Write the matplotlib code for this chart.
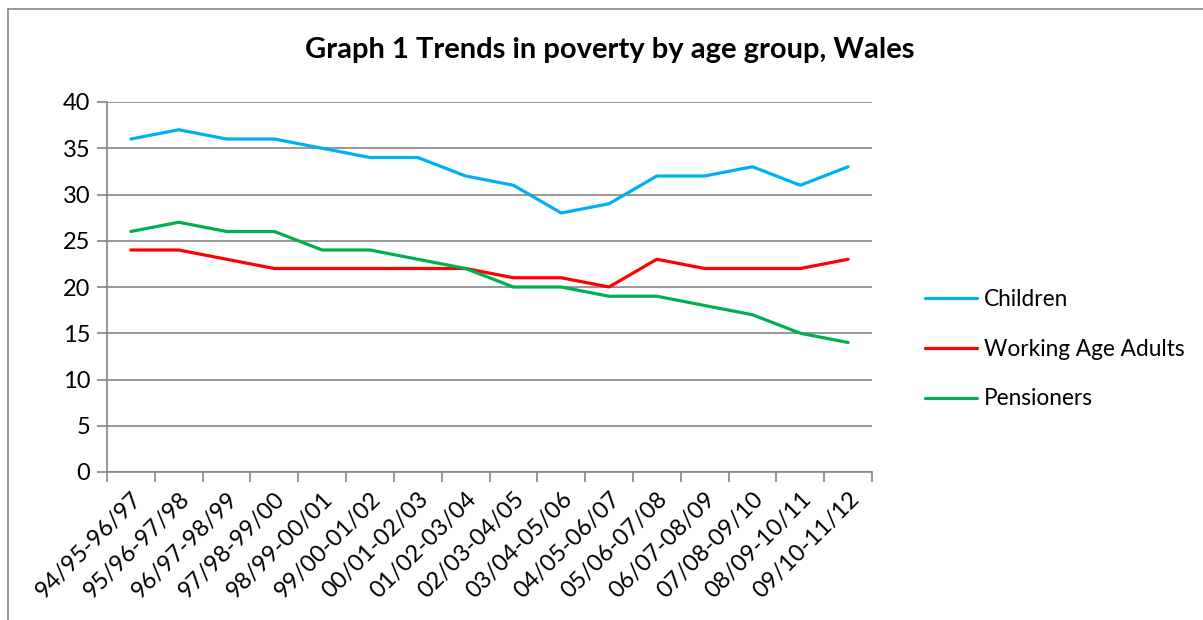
import numpy as np
import matplotlib
matplotlib.use("Agg")
import matplotlib.pyplot as plt
from matplotlib.lines import Line2D

# --- data ---
periods = ["94/95-96/97", "95/96-97/98", "96/97-98/99", "97/98-99/00",
           "98/99-00/01", "99/00-01/02", "00/01-02/03", "01/02-03/04",
           "02/03-04/05", "03/04-05/06", "04/05-06/07", "05/06-07/08",
           "06/07-08/09", "07/08-09/10", "08/09-10/11", "09/10-11/12"]
children = [36, 37, 36, 36, 35, 34, 34, 32, 31, 28, 29, 32, 32, 33, 31, 33]
working_age = [24, 24, 23, 22, 22, 22, 22, 22, 21, 21, 20, 23, 22, 22, 22, 23]
pensioners = [26, 27, 26, 26, 24, 24, 23, 22, 20, 20, 19, 19, 18, 17, 15, 14]
y_ticks = [0, 5, 10, 15, 20, 25, 30, 35, 40]

plt.rcParams['font.family'] = ['Lato', 'DejaVu Sans']
grey = '#868686'

fig = plt.figure(figsize=(12.03, 6.2), dpi=100)
ax = fig.add_axes([107 / 1203, 1 - 472 / 620, (872 - 107) / 1203, (472 - 102) / 620])

x = np.arange(len(periods))
ax.plot(x, children, color='#00B0F0', lw=2.3, label='Children', solid_capstyle='round')
ax.plot(x, working_age, color='#FF0000', lw=2.3, label='Working Age Adults', solid_capstyle='round')
ax.plot(x, pensioners, color='#00B050', lw=2.3, label='Pensioners', solid_capstyle='round')

ax.set_xlim(-0.5, len(periods) - 0.5)
ax.set_ylim(0, 40)
ax.set_yticks(y_ticks)
ax.yaxis.grid(True, color=grey, lw=1.2)
ax.set_axisbelow(True)

# category labels at centers, tick marks at boundaries
ax.set_xticks(x)
ax.set_xticklabels(periods, rotation=45, ha='right', rotation_mode='anchor', fontsize=17)
ax.set_xticks(np.arange(-0.5, len(periods)), minor=True)
ax.tick_params(axis='x', which='major', length=0, pad=12)
ax.tick_params(axis='x', which='minor', length=7, color=grey, width=1.2)
ax.tick_params(axis='y', length=7, color=grey, width=1.2, labelsize=17, pad=5)

for side in ['top', 'right']:
    ax.spines[side].set_visible(False)
for side in ['left', 'bottom']:
    ax.spines[side].set_color(grey)
    ax.spines[side].set_linewidth(1.2)

fig.text(610 / 1203, 1 - 50 / 620, 'Graph 1 Trends in poverty by age group, Wales',
         ha='center', va='center', fontsize=21, fontweight='bold')

fig.legend(loc='center left', bbox_to_anchor=(905 / 1203, 1 - 349 / 620), frameon=False,
           fontsize=16.3, handlelength=2.3, handletextpad=0.3, labelspacing=1.28)

# chart frame
fig.add_artist(Line2D([8 / 1203, 8 / 1203], [0, 1 - 9 / 620], color=grey, lw=1.2))
fig.add_artist(Line2D([8 / 1203, 1], [1 - 9 / 620, 1 - 9 / 620], color=grey, lw=1.2))

fig.savefig('out.png', dpi=100)
